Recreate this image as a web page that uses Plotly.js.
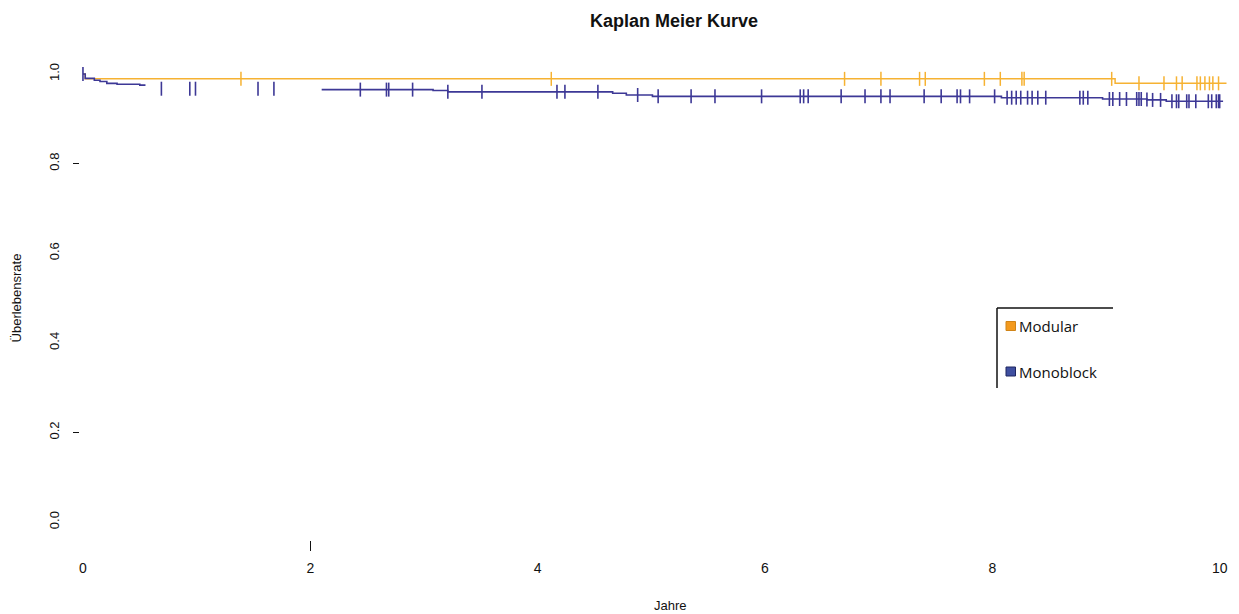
<!DOCTYPE html>
<html>
<head>
<meta charset="utf-8">
<script src="https://cdn.plot.ly/plotly-3.0.1.min.js"></script>
<style>html,body{margin:0;padding:0;background:#fff;}#chart{width:1239px;height:614px;}</style>
</head>
<body>
<div id="chart"></div>
<script>
// ---- data ----
const modularTimes = [0, 0.02, 9.08, 10.06];
const modularSurv  = [1.0, 0.989, 0.979, 0.979];
const modularCensorTimes = [1.39, 4.12, 6.70, 7.02, 7.36, 7.41, 7.93, 8.07, 8.26, 8.28, 9.05,
                            9.29, 9.51, 9.62, 9.67, 9.80, 9.83, 9.87, 9.91, 9.94, 9.99];
const modularCensorSurv  = [0.989, 0.989, 0.989, 0.989, 0.989, 0.989, 0.989, 0.989, 0.989, 0.989, 0.989,
                            0.979, 0.979, 0.979, 0.979, 0.979, 0.979, 0.979, 0.979, 0.979, 0.979];

const monoTimes = [0, 0.02, 0.10, 0.15, 0.21, 0.30, 0.50, 0.55, null, 2.10, 3.08, 3.21, 4.66, 4.78, 5.01, 8.08, 8.97, 9.36, 9.53, 10.03];
const monoSurv  = [1.0, 0.990, 0.986, 0.983, 0.979, 0.977, 0.975, 0.975, null, 0.965, 0.963, 0.960, 0.957, 0.953, 0.950, 0.947, 0.944, 0.942, 0.939, 0.939];
const monoCensorTimes = [0,
  0.69, 0.94, 0.99, 1.54, 1.68,
  2.44, 2.67, 2.69, 2.90,
  3.21, 3.51, 4.17, 4.24, 4.53,
  4.88,
  5.06, 5.35, 5.56, 5.97, 6.31, 6.34, 6.38, 6.67, 6.88, 7.02, 7.10, 7.40, 7.55, 7.69, 7.72, 7.80, 8.02,
  8.13, 8.17, 8.21, 8.25, 8.31, 8.35, 8.40, 8.47, 8.77, 8.80, 8.84,
  9.03, 9.06, 9.12, 9.18, 9.27, 9.29, 9.31, 9.36,
  9.41, 9.48,
  9.58, 9.62, 9.64, 9.71, 9.73, 9.79, 9.90, 9.93, 9.97, 9.99, 10.00];
const monoCensorSurv = [1.0,
  0.967, 0.967, 0.967, 0.967, 0.967,
  0.965, 0.965, 0.965, 0.965,
  0.960, 0.960, 0.960, 0.960, 0.960,
  0.953,
  0.950, 0.950, 0.950, 0.950, 0.950, 0.950, 0.950, 0.950, 0.950, 0.950, 0.950, 0.950, 0.950, 0.950, 0.950, 0.950, 0.950,
  0.947, 0.947, 0.947, 0.947, 0.947, 0.947, 0.947, 0.947, 0.947, 0.947, 0.947,
  0.944, 0.944, 0.944, 0.944, 0.944, 0.944, 0.944, 0.943,
  0.942, 0.942,
  0.939, 0.939, 0.939, 0.939, 0.939, 0.939, 0.939, 0.939, 0.939, 0.939, 0.939];

const seriesNames = ['Modular', 'Monoblock'];
const xTickVals = [0, 2, 4, 6, 8, 10];
const xTickText = ['0', '2', '4', '6', '8', '10'];
const yTickVals = [0, 0.2, 0.4, 0.6, 0.8, 1.0];
const yTickText = ['0.0', '0.2', '0.4', '0.6', '0.8', '1.0'];
const yStubTicks = [0.2, 0.8];
const xStubTicks = [2];

// ---- styles ----
const orangeLine = '#F6B232';
const blueLine = '#3D3896';
const orangeKey = '#F39A1E';
const blueKey = '#3F4FA0';
const FONT = '"Liberation Sans", Arial, sans-serif';
const LEGFONT = '"Open Sans", "Liberation Sans", sans-serif';
const xRange = [-0.026, 10.17];
const yRange = [-0.04, 1.04];

const traces = [
  {x: modularTimes, y: modularSurv, mode: 'lines', line: {shape: 'hv', color: orangeLine, width: 1.5}, showlegend: false, hoverinfo: 'skip'},
  {x: monoTimes, y: monoSurv, mode: 'lines', connectgaps: false, line: {shape: 'hv', color: blueLine, width: 1.6}, showlegend: false, hoverinfo: 'skip'},
  {x: modularCensorTimes, y: modularCensorSurv, mode: 'markers', marker: {symbol: 'line-ns', size: 10, line: {color: orangeLine, width: 1.5}}, showlegend: false, hoverinfo: 'skip'},
  {x: monoCensorTimes, y: monoCensorSurv, mode: 'markers', marker: {symbol: 'line-ns', size: 10, line: {color: blueLine, width: 1.6}}, showlegend: false, hoverinfo: 'skip'},
  {x: [null], y: [null], xaxis: 'x2', yaxis: 'y2', mode: 'markers', showlegend: false, hoverinfo: 'skip'}
];

const W = 1239, H = 614;
const margin = {l: 80, r: 0, t: 56, b: 74};
const pw = W - margin.l - margin.r, ph = H - margin.t - margin.b;
const px = v => (v - margin.l) / pw;
const py = v => (H - margin.b - v) / ph;

// custom legend (keys + labels) built from the series names
const keyColors = [orangeKey, blueKey];
const keyBorders = ['#d08418', '#1e2660'];
const keyRows = [326, 371.5];
const legendShapes = [];
const legendAnnots = [];
seriesNames.forEach((name, i) => {
  legendShapes.push({type: 'rect', xref: 'paper', yref: 'paper',
    x0: px(1006), x1: px(1015.5), y0: py(keyRows[i] - 4.5), y1: py(keyRows[i] + 4.5),
    fillcolor: keyColors[i], line: {color: keyBorders[i], width: 1}});
  legendAnnots.push({xref: 'paper', yref: 'paper', x: px(1017), y: py(keyRows[i]), xanchor: 'left', yanchor: 'middle',
    text: name, showarrow: false, font: {family: LEGFONT, size: 15, color: '#111'}});
});

const layout = {
  width: W, height: H,
  margin: margin,
  paper_bgcolor: '#fff', plot_bgcolor: '#fff',
  font: {family: FONT, size: 13, color: '#111'},
  title: {text: '<b>Kaplan Meier Kurve</b>', font: {family: FONT, size: 18, color: '#111'},
          x: px(674), xref: 'paper', xanchor: 'center', y: 1 - 21 / H, yref: 'container', yanchor: 'middle'},
  xaxis: {range: xRange, tickvals: xTickVals, ticktext: xTickText, ticks: '', showgrid: false, zeroline: false,
          showline: false, ticklabelstandoff: 18, tickfont: {size: 14, color: '#111'}},
  yaxis: {range: yRange, tickvals: yTickVals, ticktext: yTickText, ticks: '', showgrid: false, zeroline: false,
          showline: false, tickangle: -90, ticklabelstandoff: 17, tickfont: {size: 13, color: '#111'},
          title: {text: 'Überlebensrate', font: {size: 13, color: '#111'}, standoff: 22}},
  xaxis2: {range: xRange, overlaying: 'x', anchor: 'y', side: 'bottom', tickvals: xStubTicks, showticklabels: false,
           ticks: 'outside', ticklen: 10, tickwidth: 1.5, tickcolor: '#111', showgrid: false, zeroline: false, showline: false},
  yaxis2: {range: yRange, overlaying: 'y', anchor: 'x', side: 'left', tickvals: yStubTicks, showticklabels: false,
           ticks: 'outside', ticklen: 6, tickwidth: 1.5, tickcolor: '#111', showgrid: false, zeroline: false, showline: false},
  showlegend: false,
  annotations: [
    {xref: 'paper', yref: 'paper', x: px(670), y: py(605), xanchor: 'center', yanchor: 'middle', text: 'Jahre',
     showarrow: false, font: {family: FONT, size: 13, color: '#111'}}
  ].concat(legendAnnots),
  shapes: [
    {type: 'line', xref: 'paper', yref: 'paper', x0: px(997), x1: px(1113), y0: py(308), y1: py(308), line: {color: '#111', width: 1.5}},
    {type: 'line', xref: 'paper', yref: 'paper', x0: px(997), x1: px(997), y0: py(308), y1: py(388), line: {color: '#111', width: 1.5}}
  ].concat(legendShapes)
};

Plotly.newPlot('chart', traces, layout, {displayModeBar: false, staticPlot: true});
</script>
</body>
</html>
